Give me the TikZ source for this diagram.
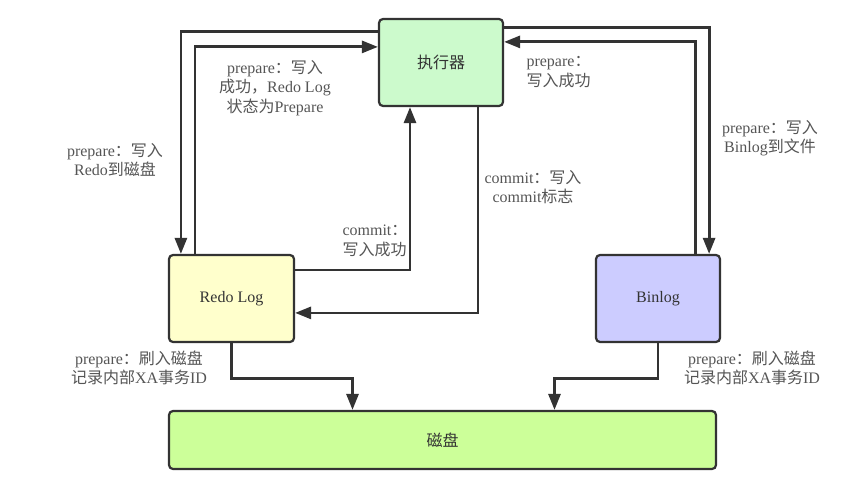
\documentclass[tikz,border=0pt]{standalone}
\usepackage{fontspec}
\setmainfont{Liberation Serif}
\newfontfamily\cjk{Noto Sans CJK SC}
\usetikzlibrary{arrows.meta}
\newcommand\zh[1]{{\cjk #1}}
\definecolor{edgegray}{HTML}{333333}
\definecolor{textgray}{HTML}{555555}
\definecolor{execgreen}{HTML}{CCFACC}
\definecolor{redoyellow}{HTML}{FFFFCC}
\definecolor{binblue}{HTML}{CCCCFF}
\definecolor{diskgreen}{HTML}{CCFF99}

\begin{document}
\begin{tikzpicture}[x=1pt,y=-1pt,
    box/.style={draw=edgegray, line width=2.2pt, rounded corners=4pt, text=edgegray,
      font=\fontsize{16}{19}\selectfont},
    arr/.style={draw=edgegray, line width=2.8pt, -{Triangle[length=16pt,width=12pt]}},
    note/.style={text=textgray, align=center, font=\fontsize{16}{19.5}\selectfont}]
    %%%%% START %%%%%
    \useasboundingbox (0,0) rectangle (866,500);

    \node[box, fill=execgreen, minimum width=124pt, minimum height=87pt] (exec) at (441, 62.5) {\zh{执行器}};
    \node[box, fill=redoyellow, minimum width=125pt, minimum height=87pt] (redo) at (231.5, 298.5) {Redo Log};
    \node[box, fill=binblue, minimum width=124pt, minimum height=87pt] (binlog) at (658, 298.5) {Binlog};
    \node[box, fill=diskgreen, minimum width=547pt, minimum height=58pt] (disk) at (442.5, 440) {\zh{磁盘}};

    % executor <-> redo log
    \draw[arr] ([yshift=-14pt]exec.north west) -| ([xshift=13pt]redo.north west);
    \draw[arr] ([xshift=27pt]redo.north west) |- ([yshift=-29pt]exec.north west);
    \draw[arr] ([yshift=-16pt]redo.north east) -| ([xshift=-31pt]exec.south);
    \draw[arr] ([xshift=37pt]exec.south) |- ([yshift=-59pt]redo.north east);

    % executor <-> binlog
    \draw[arr] ([yshift=-10pt]exec.north east) -| ([xshift=-12pt]binlog.north east);
    \draw[arr] ([xshift=-26pt]binlog.north east) |- ([yshift=-24pt]exec.north east);

    % flush to disk
    \draw[arr] (redo.south) -- ++(0,35) -| ([xshift=-90pt]disk.north);
    \draw[arr] (binlog.south) -- ++(0,35) -| ([xshift=112pt]disk.north);

    % labels
    \node[note] (lblPrepOk) at (275, 88) {prepare\zh{：写入}\\\zh{成功，}Redo Log\\\zh{状态为}Prepare};
    \node[note, align=left, anchor=west] (lblPrepBack) at (523, 72) {prepare\zh{：}\\\zh{写入成功}};
    \node[note] (lblRedoDisk) at (115, 160) {prepare\zh{：写入}\\Redo\zh{到磁盘}};
    \node[note] (lblCommitFlag) at (533, 187) {commit\zh{：写入}\\commit\zh{标志}};
    \node[note, align=left, anchor=west] (lblCommitOk) at (339, 241) {commit\zh{：}\\\zh{写入成功}};
    \node[note] (lblBinFile) at (770, 138) {prepare\zh{：写入}\\Binlog\zh{到文件}};
    \node[note] (lblFlushL) at (139, 368) {prepare\zh{：刷入磁盘}\\\zh{记录内部}XA\zh{事务}ID};
    \node[note] (lblFlushR) at (752, 368) {prepare\zh{：刷入磁盘}\\\zh{记录内部}XA\zh{事务}ID};
    %%%%% END %%%%%
\end{tikzpicture}
\end{document}
